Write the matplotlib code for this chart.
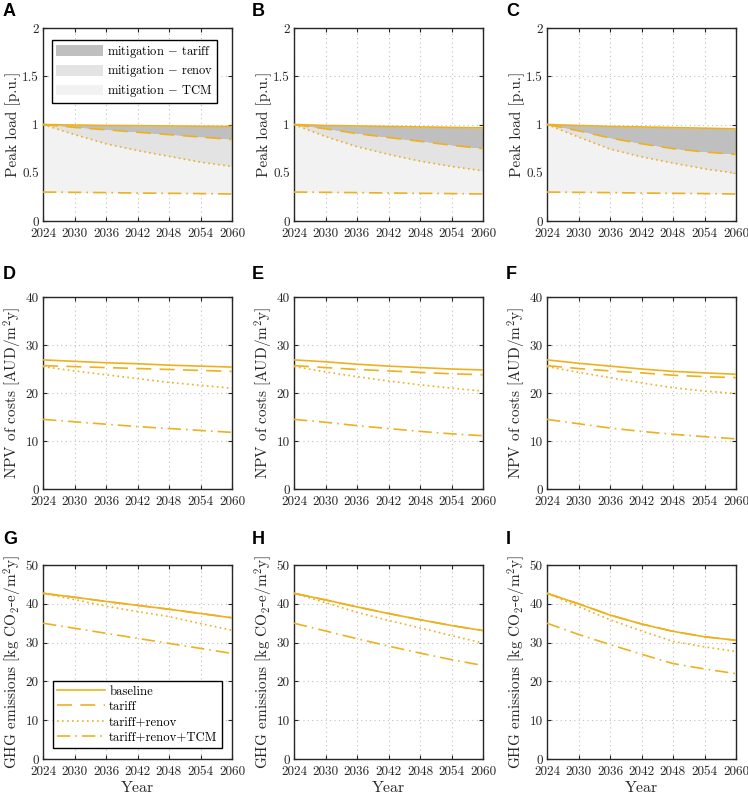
"""Peak load, NPV of costs and GHG emissions for three scenarios (panels A-I)."""

import matplotlib
matplotlib.use('Agg')
import matplotlib.pyplot as plt
from matplotlib.patches import Patch
from matplotlib.lines import Line2D

plt.rcParams['font.family'] = 'cmr10'
plt.rcParams['mathtext.fontset'] = 'cm'
plt.rcParams['axes.formatter.use_mathtext'] = True

LINE = '#EDB120'
AX_EDGE = '#262626'
FILL_TARIFF = '#bfbfbf'
FILL_RENOV = '#e3e3e3'
FILL_TCM = '#f2f2f2'

years = [2024, 2030, 2036, 2042, 2048, 2054, 2060]

# peak load [p.u.] per column
peak_base = [[1.00, 0.995, 0.99, 0.988, 0.985, 0.982, 0.98],
             [1.00, 0.99, 0.985, 0.98, 0.975, 0.97, 0.965],
             [1.00, 0.99, 0.98, 0.975, 0.968, 0.962, 0.955]]
peak_tariff = [[1.00, 0.97, 0.945, 0.92, 0.895, 0.87, 0.845],
               [1.00, 0.955, 0.906, 0.865, 0.826, 0.785, 0.75],
               [1.00, 0.935, 0.86, 0.80, 0.75, 0.715, 0.69]]
peak_renov = [[1.00, 0.895, 0.80, 0.73, 0.67, 0.61, 0.565],
              [1.00, 0.875, 0.77, 0.69, 0.62, 0.565, 0.52],
              [1.00, 0.87, 0.745, 0.665, 0.60, 0.54, 0.495]]
peak_tcm = [[0.30, 0.297, 0.294, 0.29, 0.287, 0.284, 0.28],
            [0.30, 0.297, 0.294, 0.29, 0.287, 0.284, 0.28],
            [0.30, 0.297, 0.294, 0.29, 0.287, 0.284, 0.28]]

# NPV of costs [AUD/m2y]
npv_base = [[26.9, 26.6, 26.3, 26.1, 25.8, 25.6, 25.4],
            [26.9, 26.5, 26.0, 25.6, 25.3, 25.0, 24.8],
            [26.9, 26.2, 25.6, 25.0, 24.5, 24.2, 23.9]]
npv_tariff = [[25.7, 25.5, 25.3, 25.1, 24.9, 24.7, 24.5],
              [25.7, 25.3, 24.9, 24.6, 24.3, 24.0, 23.8],
              [25.7, 25.1, 24.6, 24.2, 23.7, 23.4, 23.2]]
npv_renov = [[25.5, 24.6, 23.8, 23.0, 22.2, 21.6, 21.0],
             [25.5, 24.4, 23.4, 22.5, 21.7, 21.0, 20.4],
             [25.5, 24.3, 23.2, 22.1, 21.1, 20.4, 19.9]]
npv_tcm = [[14.5, 14.0, 13.5, 13.0, 12.6, 12.2, 11.8],
           [14.5, 13.9, 13.2, 12.6, 12.0, 11.5, 11.1],
           [14.5, 13.6, 12.7, 12.0, 11.4, 10.9, 10.45]]

# GHG emissions [kg CO2-e/m2y]
ghg_base = [[42.7, 41.7, 40.6, 39.6, 38.6, 37.5, 36.4],
            [42.7, 41.0, 39.2, 37.5, 35.9, 34.4, 33.1],
            [42.7, 40.0, 37.1, 34.8, 32.9, 31.5, 30.6]]
ghg_tariff = ghg_base
ghg_renov = [[42.7, 41.1, 39.4, 38.0, 36.7, 34.9, 33.2],
             [42.7, 40.3, 37.8, 35.7, 33.8, 31.8, 29.9],
             [42.7, 39.3, 35.9, 33.0, 30.3, 28.9, 27.7]]
ghg_tcm = [[35.0, 33.7, 32.4, 31.1, 29.8, 28.5, 27.2],
           [35.0, 33.0, 31.0, 29.1, 27.3, 25.6, 24.1],
           [35.0, 32.1, 29.5, 27.0, 24.6, 23.2, 22.0]]

series_names = ['baseline', 'tariff', 'tariff+renov', 'tariff+renov+TCM']
mitigation_names = [r'mitigation $-$ tariff', r'mitigation $-$ renov',
                    r'mitigation $-$ TCM']
# MATLAB-like line styles: solid, dashed, dotted, dash-dot
styles = ['-', (0, (9, 5)), (0, (1, 2)), (0, (8, 3, 1, 3))]
letters = ['A', 'B', 'C', 'D', 'E', 'F', 'G', 'H', 'I']

rows = [
    (peak_base, peak_tariff, peak_renov, peak_tcm, 'Peak load [p.u.]',
     [0, 0.5, 1, 1.5, 2], ['0', '0.5', '1', '1.5', '2']),
    (npv_base, npv_tariff, npv_renov, npv_tcm, r'NPV of costs [AUD/m$^2$y]',
     [0, 10, 20, 30, 40], ['0', '10', '20', '30', '40']),
    (ghg_base, ghg_tariff, ghg_renov, ghg_tcm,
     r'GHG emissions [kg CO$_2$-e/m$^2$y]',
     [0, 10, 20, 30, 40, 50], ['0', '10', '20', '30', '40', '50']),
]

W, H = 748, 795
fig = plt.figure(figsize=(W / 100, H / 100), dpi=100)
fig.patch.set_facecolor('white')

col_left = [43, 294, 547]
col_w = 189
row_top = [28, 297, 565]
row_h = [193, 192, 194]
letter_x = [3, 252, 506]
letter_y = [12, 275, 540]

for r, (base, tariff, renov, tcm, ylabel, yt, ytl) in enumerate(rows):
    for c in range(3):
        x0, y0 = col_left[c], row_top[r]
        ax = fig.add_axes([x0 / W, 1 - (y0 + row_h[r]) / H, col_w / W, row_h[r] / H])
        if r == 0:
            ax.fill_between(years, base[c], tariff[c], color=FILL_TARIFF, lw=0, zorder=1)
            ax.fill_between(years, tariff[c], renov[c], color=FILL_RENOV, lw=0, zorder=1)
            ax.fill_between(years, renov[c], tcm[c], color=FILL_TCM, lw=0, zorder=1)
        data = [base[c], tariff[c], renov[c], tcm[c]]
        for k in [1, 0, 2, 3]:
            ax.plot(years, data[k], linestyle=styles[k], color=LINE, lw=1.2,
                    zorder=3 + (k == 0))
        ax.set_xlim(2024, 2060)
        ax.set_ylim(yt[0], yt[-1])
        ax.set_xticks(years)
        ax.set_xticklabels([str(y) for y in years])
        ax.set_yticks(yt)
        ax.set_yticklabels(ytl)
        ax.grid(True, linestyle=(0, (1, 3)), color='#c0c0c0', lw=0.8, zorder=0)
        ax.set_axisbelow(True)
        ax.tick_params(direction='in', top=True, right=True, length=3,
                       width=0.8, colors=AX_EDGE, labelsize=9.5)
        ax.tick_params(axis='x', pad=5)
        ax.tick_params(axis='y', pad=3)
        for sp in ax.spines.values():
            sp.set_color(AX_EDGE)
            sp.set_linewidth(1.0)
        ax.set_ylabel(ylabel, fontsize=11, labelpad=1, color=AX_EDGE)
        if r == 2:
            ax.set_xlabel('Year', fontsize=11.5, labelpad=2, color=AX_EDGE)
        fig.text(letter_x[c] / W, 1 - letter_y[r] / H, letters[r * 3 + c],
                 fontsize=13, fontweight='bold', family='Liberation Sans',
                 ha='left', va='center')

        if r == 0 and c == 0:
            handles = [Patch(facecolor=FILL_TARIFF, edgecolor='none'),
                       Patch(facecolor=FILL_RENOV, edgecolor='none'),
                       Patch(facecolor=FILL_TCM, edgecolor='none')]
            leg = ax.legend(handles, mitigation_names, fontsize=9,
                            loc='upper right', bbox_to_anchor=(0.921, 0.938),
                            fancybox=False, framealpha=1,
                            edgecolor='black', handlelength=3.75,
                            handleheight=0.95, handletextpad=0.35,
                            borderpad=0.3, labelspacing=0.3,
                            borderaxespad=0)
            leg.get_frame().set_linewidth(1.0)
        if r == 2 and c == 0:
            handles = [Line2D([], [], color=LINE, ls=s, lw=1.2) for s in styles]
            leg = ax.legend(handles, series_names, loc='lower right',
                            bbox_to_anchor=(0.947, 0.057), fontsize=9.2,
                            fancybox=False, framealpha=1, edgecolor='black',
                            handlelength=3.75, handletextpad=0.3,
                            borderpad=0.35, labelspacing=0.25,
                            borderaxespad=0)
            leg.get_frame().set_linewidth(1.0)

plt.savefig('out.png', dpi=100, facecolor='white')
plt.close()
